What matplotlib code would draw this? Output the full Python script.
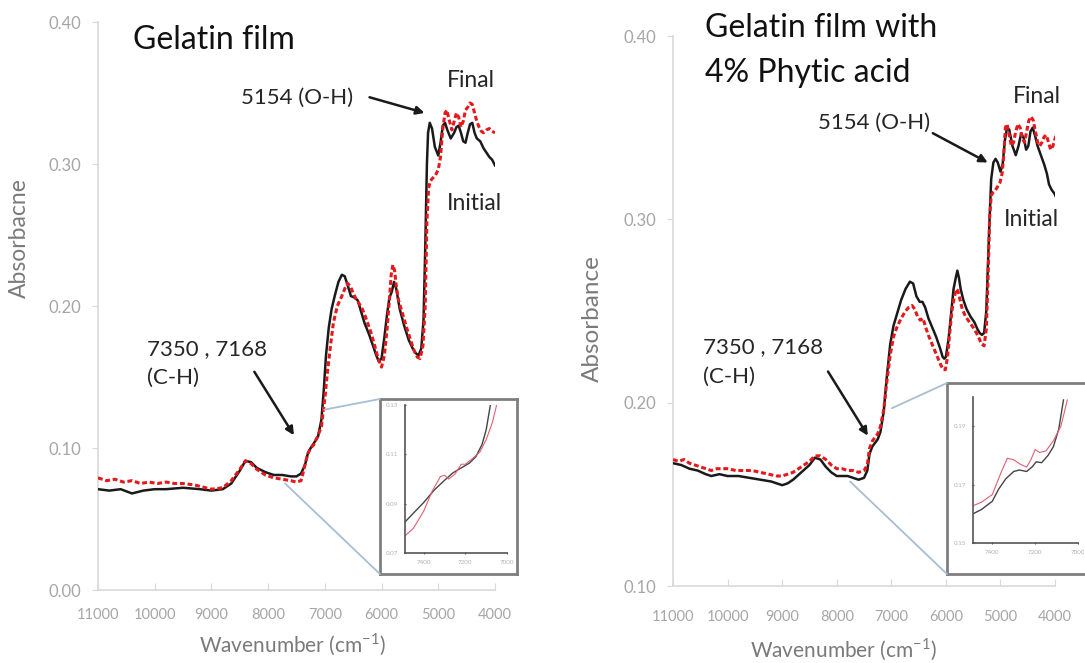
import matplotlib
matplotlib.use("Agg")
import matplotlib.pyplot as plt
from matplotlib.patches import ConnectionPatch

plt.rcParams['font.family'] = ['Lato', 'DejaVu Sans']

# ---- left panel: Gelatin film ----
wn_a_init = [11000, 10800, 10600, 10400, 10200, 10000, 9800, 9500, 9200, 9000, 8800, 8650, 8500, 8400,
             8300, 8200, 8050, 7900, 7750, 7600, 7500, 7420, 7350, 7300, 7250, 7200, 7120, 7060, 7020,
             6980, 6930, 6880, 6820, 6760, 6700, 6650, 6600, 6540, 6480, 6420, 6360, 6300, 6220, 6150,
             6100, 6050, 6000, 5950, 5900, 5860, 5820, 5780, 5740, 5680, 5600, 5520, 5450, 5400, 5350,
             5300, 5260, 5230, 5200, 5180, 5150, 5110, 5060, 5000, 4960, 4920, 4880, 4840, 4780, 4720,
             4680, 4640, 4600, 4560, 4520, 4480, 4440, 4400, 4360, 4320, 4260, 4200, 4150, 4100, 4050, 4000]
ab_a_init = [0.071, 0.070, 0.071, 0.068, 0.070, 0.071, 0.071, 0.072, 0.071, 0.070, 0.071, 0.075, 0.084, 0.091,
             0.090, 0.086, 0.083, 0.081, 0.081, 0.080, 0.080, 0.082, 0.088, 0.096, 0.100, 0.103, 0.108, 0.120, 0.140,
             0.165, 0.185, 0.198, 0.208, 0.217, 0.222, 0.221, 0.215, 0.207, 0.206, 0.204, 0.196, 0.188, 0.180, 0.172,
             0.166, 0.161, 0.163, 0.178, 0.195, 0.206, 0.210, 0.217, 0.212, 0.198, 0.186, 0.176, 0.170, 0.167, 0.165,
             0.170, 0.190, 0.240, 0.300, 0.322, 0.329, 0.325, 0.312, 0.306, 0.315, 0.327, 0.329, 0.324, 0.318, 0.322,
             0.326, 0.327, 0.322, 0.316, 0.315, 0.322, 0.328, 0.329, 0.322, 0.318, 0.316, 0.311, 0.308, 0.305, 0.303, 0.299]

wn_a_final = [11000, 10850, 10700, 10550, 10400, 10250, 10100, 9950, 9800, 9650, 9500, 9300, 9100, 9000, 8800,
              8650, 8500, 8400, 8300, 8200, 8050, 7900, 7750, 7600, 7500, 7420, 7380, 7340, 7300, 7250, 7200,
              7130, 7060, 7000, 6950, 6900, 6850, 6780, 6700, 6640, 6600, 6550, 6500, 6450, 6400, 6340, 6280,
              6200, 6120, 6060, 6000, 5950, 5900, 5860, 5830, 5800, 5770, 5740, 5700, 5640, 5560, 5480, 5420,
              5370, 5320, 5270, 5230, 5200, 5170, 5140, 5100, 5050, 5000, 4960, 4920, 4880, 4850, 4800, 4760,
              4720, 4680, 4640, 4600, 4560, 4520, 4480, 4440, 4400, 4360, 4320, 4280, 4240, 4200, 4150, 4100,
              4050, 4000]
ab_a_final = [0.079, 0.077, 0.078, 0.076, 0.077, 0.075, 0.076, 0.075, 0.076, 0.075, 0.075, 0.074, 0.072, 0.071, 0.072,
              0.077, 0.085, 0.091, 0.089, 0.085, 0.081, 0.079, 0.078, 0.077, 0.076, 0.077, 0.083, 0.090, 0.096, 0.100, 0.102,
              0.108, 0.115, 0.135, 0.155, 0.172, 0.188, 0.200, 0.207, 0.213, 0.216, 0.214, 0.209, 0.205, 0.202, 0.198, 0.192,
              0.183, 0.172, 0.163, 0.157, 0.165, 0.185, 0.205, 0.222, 0.229, 0.225, 0.214, 0.204, 0.196, 0.185, 0.175, 0.168,
              0.164, 0.163, 0.172, 0.200, 0.260, 0.283, 0.288, 0.290, 0.292, 0.296, 0.305, 0.325, 0.336, 0.338, 0.330, 0.324,
              0.330, 0.336, 0.333, 0.326, 0.330, 0.338, 0.340, 0.343, 0.342, 0.336, 0.330, 0.326, 0.323, 0.322, 0.324, 0.325,
              0.323, 0.322]

# left inset (zoom 7500-7000)
wn_ai_init = [7490, 7440, 7400, 7350, 7300, 7260, 7220, 7180, 7150, 7120, 7100, 7080]
ab_ai_init = [0.0826, 0.0870, 0.0905, 0.0955, 0.0995, 0.1025, 0.1045, 0.1065, 0.1090, 0.1140, 0.1200, 0.1300]
wn_ai_final = [7490, 7450, 7400, 7360, 7320, 7300, 7280, 7250, 7220, 7200, 7170, 7130, 7100, 7070, 7050]
ab_ai_final = [0.0770, 0.0800, 0.0870, 0.0950, 0.1010, 0.1015, 0.1000, 0.1020, 0.1060, 0.1060, 0.1080, 0.1110, 0.1160, 0.1230, 0.1300]

# ---- right panel: Gelatin film with 4% phytic acid ----
wn_b_init = [11000, 10850, 10700, 10550, 10400, 10300, 10150, 10000, 9800, 9600, 9400, 9200, 9000, 8900, 8800,
             8650, 8500, 8400, 8300, 8200, 8100, 8000, 7900, 7800, 7700, 7600, 7500, 7440, 7400, 7350, 7300,
             7250, 7200, 7140, 7080, 7020, 6960, 6900, 6820, 6740, 6660, 6600, 6540, 6480, 6430, 6380, 6320,
             6250, 6180, 6110, 6060, 6030, 6000, 5950, 5900, 5860, 5820, 5790, 5760, 5730, 5680, 5620, 5550,
             5480, 5420, 5380, 5340, 5300, 5260, 5230, 5200, 5170, 5130, 5090, 5050, 5000, 4960, 4920, 4880,
             4840, 4780, 4720, 4670, 4620, 4570, 4530, 4490, 4450, 4410, 4370, 4320, 4260, 4200, 4150, 4110,
             4060, 4010, 3980]
ab_b_init = [0.167, 0.166, 0.164, 0.163, 0.161, 0.160, 0.161, 0.160, 0.160, 0.159, 0.158, 0.157, 0.155, 0.156, 0.158,
             0.162, 0.166, 0.170, 0.169, 0.165, 0.162, 0.160, 0.160, 0.160, 0.159, 0.158, 0.159, 0.163, 0.172, 0.176, 0.178,
             0.180, 0.184, 0.195, 0.215, 0.232, 0.242, 0.248, 0.256, 0.262, 0.266, 0.265, 0.258, 0.255, 0.255, 0.252, 0.246,
             0.241, 0.236, 0.230, 0.225, 0.224, 0.225, 0.235, 0.250, 0.262, 0.268, 0.272, 0.268, 0.262, 0.256, 0.251, 0.247,
             0.244, 0.240, 0.238, 0.237, 0.238, 0.250, 0.275, 0.300, 0.322, 0.331, 0.333, 0.331, 0.326, 0.330, 0.343, 0.350,
             0.349, 0.340, 0.335, 0.340, 0.347, 0.344, 0.338, 0.340, 0.348, 0.350, 0.346, 0.340, 0.335, 0.330, 0.325, 0.319,
             0.316, 0.314, 0.312]

wn_b_final = [11000, 10900, 10800, 10700, 10600, 10500, 10400, 10300, 10200, 10100, 10000, 9850, 9700, 9550, 9400,
              9250, 9100, 9000, 8900, 8800, 8700, 8600, 8500, 8400, 8300, 8200, 8100, 8000, 7900, 7800, 7700,
              7600, 7500, 7440, 7400, 7350, 7300, 7250, 7200, 7140, 7080, 7020, 6960, 6900, 6820, 6740, 6680,
              6620, 6570, 6520, 6470, 6420, 6370, 6310, 6240, 6170, 6100, 6050, 6010, 5970, 5930, 5890, 5850,
              5810, 5780, 5740, 5700, 5640, 5570, 5500, 5440, 5390, 5350, 5300, 5260, 5230, 5200, 5170, 5130,
              5090, 5050, 5010, 4970, 4940, 4910, 4880, 4840, 4800, 4760, 4720, 4680, 4640, 4600, 4560, 4520,
              4480, 4440, 4400, 4360, 4320, 4280, 4240, 4200, 4160, 4120, 4080, 4040, 4000, 3980]
ab_b_final = [0.169, 0.168, 0.169, 0.167, 0.166, 0.165, 0.164, 0.163, 0.164, 0.164, 0.164, 0.163, 0.163, 0.163, 0.162,
              0.161, 0.160, 0.160, 0.161, 0.162, 0.164, 0.166, 0.168, 0.171, 0.171, 0.169, 0.166, 0.164, 0.164, 0.163, 0.163,
              0.162, 0.163, 0.166, 0.175, 0.179, 0.181, 0.183, 0.187, 0.196, 0.212, 0.226, 0.236, 0.241, 0.246, 0.250, 0.252,
              0.253, 0.251, 0.247, 0.245, 0.246, 0.241, 0.236, 0.231, 0.226, 0.221, 0.218, 0.218, 0.225, 0.238, 0.250, 0.257,
              0.262, 0.261, 0.256, 0.251, 0.247, 0.244, 0.241, 0.238, 0.235, 0.232, 0.231, 0.240, 0.265, 0.300, 0.313, 0.315,
              0.316, 0.318, 0.320, 0.325, 0.335, 0.350, 0.352, 0.346, 0.340, 0.342, 0.348, 0.352, 0.350, 0.344, 0.342, 0.348,
              0.354, 0.356, 0.354, 0.348, 0.342, 0.340, 0.342, 0.345, 0.346, 0.342, 0.338, 0.340, 0.344, 0.346]

# right inset
wn_bi_init = [7495, 7450, 7400, 7370, 7337, 7300, 7274, 7240, 7215, 7195, 7170, 7140, 7115, 7090, 7068]
ab_bi_init = [0.1598, 0.1615, 0.1643, 0.1685, 0.1720, 0.1745, 0.1750, 0.1745, 0.1760, 0.1778, 0.1775, 0.1800, 0.1830, 0.1890, 0.1990]
wn_bi_final = [7495, 7450, 7400, 7360, 7330, 7300, 7270, 7240, 7220, 7200, 7180, 7150, 7115, 7080, 7050]
ab_bi_final = [0.1626, 0.1640, 0.1666, 0.1740, 0.1790, 0.1785, 0.1770, 0.1760, 0.1785, 0.1820, 0.1810, 0.1815, 0.1850, 0.1900, 0.1990]

xticks = [11000, 10000, 9000, 8000, 7000, 6000, 5000, 4000]

BLACK = '#1a1a1a'
RED = '#e3191c'
GRID = '#d9d9d9'
TICKC = '#a6a6a6'
LBLC = '#7a7a7a'
TXT = '#262626'
ZOOMC = '#a9bdd3'
DASH = (0, (1.6, 0.9))

fig = plt.figure(figsize=(10.85, 6.63), dpi=100)


def style_main(ax, ylo, yticks, xpad):
    ax.set_xlim(11000, 4000)
    ax.set_ylim(ylo, 0.40)
    ax.set_xticks(xticks)
    ax.set_yticks(yticks)
    ax.set_yticklabels(['%.2f' % t for t in yticks])
    for s in ['top', 'right']:
        ax.spines[s].set_visible(False)
    for s in ['left', 'bottom']:
        ax.spines[s].set_color(GRID)
        ax.spines[s].set_linewidth(1.2)
    ax.tick_params(axis='y', colors=GRID, labelcolor=TICKC, labelsize=12, length=4, pad=8)
    ax.tick_params(axis='x', colors=GRID, labelcolor=TICKC, labelsize=10.5, length=5, direction='in', pad=xpad)
    ax.xaxis.label.set_color(LBLC)
    ax.yaxis.label.set_color(LBLC)
    ax.xaxis.label.set_va('center')


def style_inset(box, ax, xt, yt, ylim):
    box.set_xticks([])
    box.set_yticks([])
    for s in box.spines.values():
        s.set_color('#7f7f7f')
        s.set_linewidth(2)
    ax.set_xlim(7490, 7000)
    ax.set_ylim(*ylim)
    ax.set_xticks(xt)
    ax.set_yticks(yt)
    ax.set_xticklabels([str(t) for t in xt])
    ax.set_yticklabels(['%.2f' % t for t in yt])
    ax.patch.set_alpha(0)
    for s in ['top', 'right']:
        ax.spines[s].set_visible(False)
    for s in ['left', 'bottom']:
        ax.spines[s].set_color('#555555')
        ax.spines[s].set_linewidth(1.2)
    ax.tick_params(colors='#555555', labelcolor='#b0b0b0', labelsize=4.5, length=2, direction='inout', pad=4)


arrow = dict(arrowstyle='-|>', color=BLACK, lw=1.8, mutation_scale=12, shrinkA=0, shrinkB=0)

# ---------- left ----------
ax1 = fig.add_axes([0.0903, 0.1101, 0.3659, 0.8567])
ax1.plot(wn_a_init, ab_a_init, color=BLACK, lw=1.8, zorder=3)
ax1.plot(wn_a_final, ab_a_final, color=RED, lw=2.2, ls=DASH, zorder=4)
style_main(ax1, 0.0, [0.0, 0.1, 0.2, 0.3, 0.4], 13)
ax1.set_ylabel('Absorbacne', fontsize=16.5)
ax1.yaxis.set_label_coords(-0.171, 0.620)
ax1.set_xlabel('Wavenumber (cm$^{\\mathregular{-1}}$)', fontsize=15)
ax1.xaxis.set_label_coords(0.489, -0.097)

ax1.text(10390, 0.387, 'Gelatin film', fontsize=23, color='#111111', va='center', ha='left')
ax1.text(4424, 0.359, 'Final', fontsize=16.5, color=TXT, ha='center', va='center')
ax1.text(4370, 0.2725, 'Initial', fontsize=16.5, color=TXT, ha='center', va='center')
ax1.text(7485, 0.3465, '5154 (O-H)', fontsize=16, color=TXT, ha='center', va='center')
ax1.annotate('', xy=(5242, 0.336), xytext=(6212, 0.347), arrowprops=arrow)
ax1.text(10136, 0.1595, '7350 , 7168\n(C-H)', fontsize=16, color=TXT, ha='left', va='center',
         linespacing=1.55)
ax1.annotate('', xy=(7545, 0.109), xytext=(8243, 0.1537), arrowprops=arrow)

box1 = fig.add_axes([0.3502, 0.1342, 0.1263, 0.264])
ins1 = fig.add_axes([0.3733, 0.1659, 0.0940, 0.2232])
ins1.plot(wn_ai_init, ab_ai_init, color='#444444', lw=1.0)
ins1.plot(wn_ai_final, ab_ai_final, color='#e06070', lw=0.8)
style_inset(box1, ins1, [7400, 7200, 7000], [0.07, 0.09, 0.11, 0.13], (0.07, 0.13))

for xy_main, xy_box in [((7010, 0.127), (0, 1)), ((7700, 0.075), (0, 0))]:
    con = ConnectionPatch(xyA=xy_main, coordsA=ax1.transData, xyB=xy_box, coordsB=box1.transAxes,
                          color=ZOOMC, lw=1.3)
    fig.add_artist(con)

# ---------- right ----------
ax2 = fig.add_axes([0.6203, 0.1161, 0.3521, 0.8296])
ax2.plot(wn_b_init, ab_b_init, color=BLACK, lw=1.8, zorder=3)
ax2.plot(wn_b_final, ab_b_final, color=RED, lw=2.2, ls=DASH, zorder=4)
style_main(ax2, 0.10, [0.1, 0.2, 0.3, 0.4], 17)
ax2.set_ylabel('Absorbance', fontsize=17.5)
ax2.yaxis.set_label_coords(-0.183, 0.487)
ax2.set_xlabel('Wavenumber (cm$^{\\mathregular{-1}}$)', fontsize=15)
ax2.xaxis.set_label_coords(0.445, -0.116)

ax2.text(10412, 0.4043, 'Gelatin film with', fontsize=23, color='#111111', va='center', ha='left',
         clip_on=False)
ax2.text(10412, 0.380, '4% Phytic acid', fontsize=23, color='#111111', va='center', ha='left')
ax2.text(4340, 0.367, 'Final', fontsize=16.5, color=TXT, ha='center', va='center')
ax2.text(4435, 0.300, 'Initial', fontsize=16.5, color=TXT, ha='center', va='center')
ax2.text(7311, 0.3527, '5154 (O-H)', fontsize=16, color=TXT, ha='center', va='center')
ax2.annotate('', xy=(5234, 0.331), xytext=(6240, 0.347), arrowprops=arrow)
ax2.text(10450, 0.2222, '7350 , 7168\n(C-H)', fontsize=16, color=TXT, ha='left', va='center',
         linespacing=1.55)
ax2.annotate('', xy=(7430, 0.182), xytext=(8160, 0.217), arrowprops=arrow)

box2 = fig.add_axes([0.8728, 0.1342, 0.1364, 0.2881])
ins2 = fig.add_axes([0.8968, 0.1810, 0.0968, 0.2202])
ins2.plot(wn_bi_init, ab_bi_init, color='#444444', lw=1.0)
ins2.plot(wn_bi_final, ab_bi_final, color='#e06070', lw=0.8)
style_inset(box2, ins2, [7400, 7200, 7000], [0.15, 0.17, 0.19], (0.15, 0.20))

for xy_main, xy_box in [((6990, 0.197), (0, 1)), ((7756, 0.157), (0, 0))]:
    con = ConnectionPatch(xyA=xy_main, coordsA=ax2.transData, xyB=xy_box, coordsB=box2.transAxes,
                          color=ZOOMC, lw=1.3)
    fig.add_artist(con)

fig.savefig('out.png', dpi=100)
